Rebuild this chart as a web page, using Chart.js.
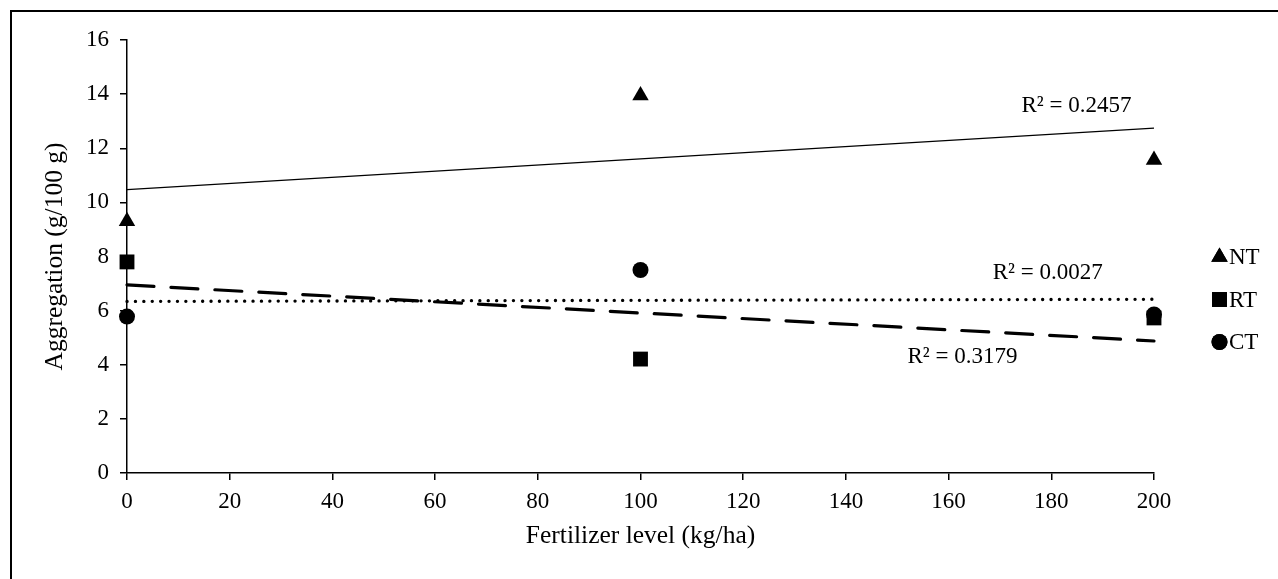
<!DOCTYPE html>
<html>
<head>
<meta charset="utf-8">
<script src="https://cdn.jsdelivr.net/npm/chart.js@4"></script>
<style>
  html, body { margin: 0; padding: 0; background: #fff; }
</style>
</head>
<body>
<canvas id="aggregation" width="1278" height="579"></canvas>
<script>
// fertilizer rates and aggregation per tillage system
const fertilizer = [0, 100, 200];
const ntAgg = [9.3, 13.95, 11.57];
const rtAgg = [7.8, 4.21, 5.73];
const ctAgg = [5.78, 7.5, 5.86];
const seriesNames = ['NT', 'RT', 'CT'];
const r2Labels = ['R² = 0.2457', 'R² = 0.3179', 'R² = 0.0027'];

const SERIF = '"Liberation Serif", "Times New Roman", serif';

// least squares fit, returned as the two end points of the line
function trend(xs, ys) {
    const n = xs.length;
    const mx = xs.reduce((a, b) => a + b, 0) / n;
    const my = ys.reduce((a, b) => a + b, 0) / n;
    let sxy = 0, sxx = 0;
    xs.forEach((x, i) => { sxy += (x - mx) * (ys[i] - my); sxx += (x - mx) * (x - mx); });
    const slope = sxy / sxx;
    const icpt = my - slope * mx;
    const x0 = Math.min(...xs), x1 = Math.max(...xs);
    return [{x: x0, y: icpt + slope * x0}, {x: x1, y: icpt + slope * x1}];
}

const toPoints = ys => fertilizer.map((x, i) => ({x: x, y: ys[i]}));

const markers = [
    {style: 'triangle', radius: 9.5},
    {style: 'rect', radius: 10.5},
    {style: 'circle', radius: 8},
];
const lineStyles = [
    {width: 1.2, dash: [], cap: 'butt'},
    {width: 3.2, dash: [27, 17], cap: 'round'},
    {width: 3.3, dash: [0.1, 8.3], cap: 'round'},
];
// where each R² label ends (right edge, baseline), in axis units
const labelAt = [{x: 195.6, y: 13.33}, {x: 173.4, y: 4.07}, {x: 190, y: 7.17}];

const allSeries = [ntAgg, rtAgg, ctAgg];

const datasets = [];
allSeries.forEach((ys, i) => {
    datasets.push({
        label: seriesNames[i] + ' trend',
        data: trend(fertilizer, ys),
        showLine: true,
        borderColor: '#000',
        borderWidth: lineStyles[i].width,
        borderDash: lineStyles[i].dash,
        borderCapStyle: lineStyles[i].cap,
        pointRadius: 0,
        clip: false,
        order: 2,
    });
});
allSeries.forEach((ys, i) => {
    datasets.push({
        label: seriesNames[i],
        data: toPoints(ys),
        showLine: false,
        pointStyle: markers[i].style,
        pointRadius: markers[i].radius,
        backgroundColor: '#000',
        borderColor: '#000',
        borderWidth: 0,
        clip: false,
        order: 1,
    });
});

const extras = {
    id: 'extras',
    afterDraw(chart) {
        const ctx = chart.ctx;
        const xs = chart.scales.x, ys = chart.scales.y;
        ctx.save();
        // outer frame
        ctx.strokeStyle = '#000';
        ctx.lineWidth = 2;
        ctx.beginPath();
        ctx.moveTo(11, 579);
        ctx.lineTo(11, 11);
        ctx.lineTo(1278, 11);
        ctx.stroke();

        // R² labels
        ctx.fillStyle = '#000';
        ctx.font = '23px ' + SERIF;
        ctx.textAlign = 'right';
        ctx.textBaseline = 'alphabetic';
        r2Labels.forEach((t, i) => {
            ctx.fillText(t, xs.getPixelForValue(labelAt[i].x), ys.getPixelForValue(labelAt[i].y));
        });

        // legend
        ctx.textAlign = 'left';
        ctx.textBaseline = 'middle';
        seriesNames.forEach((name, i) => {
            const y = 257 + i * 42.5;
            Chart.helpers.drawPoint(ctx, {pointStyle: markers[i].style, radius: markers[i].radius, borderWidth: 0}, 1219.5, y);
            ctx.fillStyle = '#000';
            ctx.fill();
            ctx.fillText(name, 1229, y + 1);
        });
        ctx.restore();
    }
};

const axisFont = {family: SERIF, size: 23};
const titleFont = {family: SERIF, size: 25.5};

new Chart('aggregation', {
    type: 'scatter',
    data: {datasets: datasets},
    options: {
        responsive: false,
        animation: false,
        layout: {padding: {top: 40, right: 124, bottom: 0, left: 0}},
        plugins: {legend: {display: false}, tooltip: {enabled: false}},
        scales: {
            x: {
                type: 'linear',
                min: 0,
                max: 200,
                ticks: {stepSize: 20, color: '#000', font: axisFont, padding: 8, maxRotation: 0},
                grid: {drawOnChartArea: false, color: '#000', lineWidth: 1.5, tickLength: 7},
                border: {color: '#000', width: 1.5},
                title: {display: true, text: 'Fertilizer level (kg/ha)', color: '#000', font: titleFont, padding: {top: 0, bottom: 27}},
                afterFit(scale) { scale.height = 106; },
            },
            y: {
                type: 'linear',
                min: 0,
                max: 16,
                ticks: {stepSize: 2, color: '#000', font: axisFont, padding: 11},
                grid: {drawOnChartArea: false, color: '#000', lineWidth: 1.5, tickLength: 7},
                border: {color: '#000', width: 1.5},
                title: {display: true, text: 'Aggregation (g/100 g)', color: '#000', font: titleFont, padding: {top: 40, bottom: 0}},
                afterFit(scale) { scale.width = 127; },
            }
        }
    },
    plugins: [extras]
});
</script>
</body>
</html>
